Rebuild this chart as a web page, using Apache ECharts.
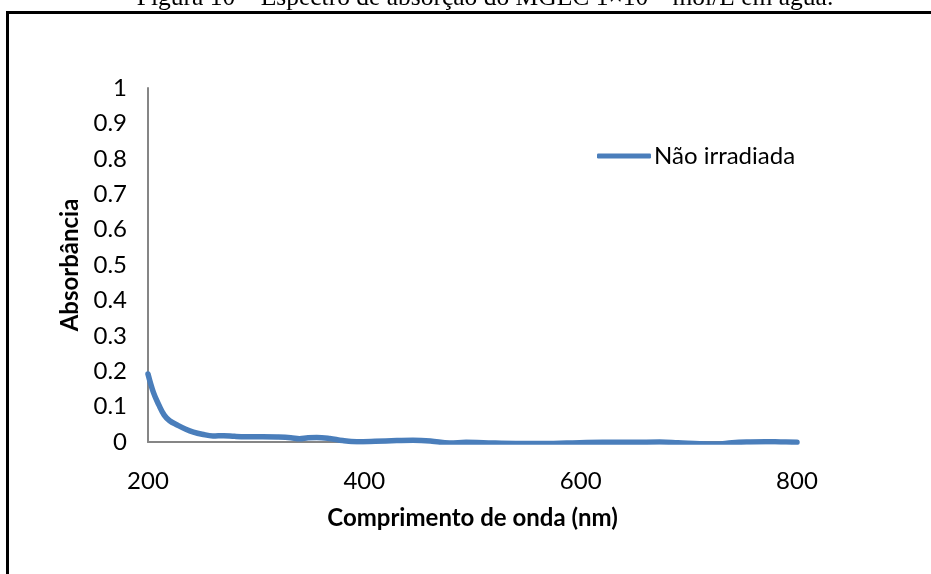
<!DOCTYPE html>
<html>
<head>
<meta charset="utf-8">
<script src="https://cdn.jsdelivr.net/npm/echarts@6/dist/echarts.min.js"></script>
<style>
  html, body { margin: 0; padding: 0; background: #fff; }
  #chart { width: 931px; height: 574px; }
</style>
</head>
<body>
<div id="chart"></div>
<script>
// Absorption spectrum of MGEC (non-irradiated), wavelength in nm vs absorbance
const wavelengths = [200, 205, 210, 215, 220, 227, 235, 242, 250, 260, 270, 280, 290, 306, 320, 332, 340, 348, 356, 368, 380, 393, 410, 430, 445, 461, 479, 494, 510, 540, 570, 587, 620, 648, 673, 690, 710, 725, 740, 755, 771, 785, 800];
const absorbance = [0.192, 0.140, 0.105, 0.076, 0.060, 0.048, 0.036, 0.028, 0.022, 0.017, 0.018, 0.016, 0.015, 0.015, 0.014, 0.012, 0.009, 0.012, 0.013, 0.010, 0.004, 0.001, 0.002, 0.004, 0.005, 0.003, -0.003, -0.001, -0.002, -0.004, -0.004, -0.003, -0.001, -0.001, 0.000, -0.002, -0.005, -0.006, -0.002, 0.000, 0.001, 0.000, -0.001];
const seriesName = 'Não irradiada';
const xTicks = { min: 200, max: 800, step: 200 };
const yTicks = { min: 0, max: 1, step: 0.1 };

const points = wavelengths.map((w, i) => [w, absorbance[i]]);
const uiFont = 'Lato, "Open Sans", sans-serif';
const fs = 24;

const chart = echarts.init(document.getElementById('chart'), null, { renderer: 'canvas' });
chart.setOption({
  animation: false,
  backgroundColor: '#ffffff',
  grid: { left: 148, right: 134, top: 88, bottom: 132, containLabel: false },
  xAxis: {
    type: 'value',
    min: xTicks.min, max: xTicks.max, interval: xTicks.step,
    name: 'Comprimento de onda (nm)',
    nameLocation: 'middle', nameGap: 64,
    nameTextStyle: { fontFamily: uiFont, fontWeight: 'bold', fontSize: fs, color: '#000' },
    axisLine: { show: true, lineStyle: { color: '#868686', width: 2 } },
    axisTick: { show: false },
    splitLine: { show: false },
    axisLabel: { fontFamily: uiFont, fontSize: fs, color: '#000', margin: 27 }
  },
  yAxis: {
    type: 'value',
    min: yTicks.min, max: yTicks.max, interval: yTicks.step,
    name: 'Absorbância',
    nameLocation: 'middle', nameGap: 66,
    nameTextStyle: { fontFamily: uiFont, fontWeight: 'bold', fontSize: fs, color: '#000' },
    axisLine: { show: true, lineStyle: { color: '#868686', width: 2 } },
    axisTick: { show: false },
    splitLine: { show: false },
    axisLabel: { fontFamily: uiFont, fontSize: fs, color: '#000', margin: 21 }
  },
  legend: {
    data: [seriesName],
    left: 592, top: 139,
    itemWidth: 54, itemHeight: 5, itemGap: 4,
    icon: 'roundRect',
    textStyle: { fontFamily: uiFont, fontSize: fs, color: '#000', padding: [0, 0, 0, -2] }
  },
  series: [{
    name: seriesName,
    type: 'line',
    data: points,
    smooth: 0.4,
    showSymbol: false,
    symbol: 'none',
    lineStyle: { color: '#4a7ebb', width: 5.5, cap: 'round', join: 'round' },
    itemStyle: { color: '#4a7ebb' }
  }],
  graphic: [
    {
      type: 'rect',
      shape: { x: 7.5, y: 12.5, width: 1000, height: 700 },
      style: { fill: 'none', stroke: '#000', lineWidth: 3 },
      silent: true
    },
    {
      type: 'text',
      x: 485, y: 11,
      style: {
        text: 'Figura 10 – Espectro de absorção do MGEC 1×10⁻⁵ mol/L em água.',
        font: '25.5px "Liberation Serif", "Times New Roman", serif',
        fill: '#000',
        textAlign: 'center',
        textVerticalAlign: 'bottom'
      },
      silent: true
    }
  ]
});
</script>
</body>
</html>
